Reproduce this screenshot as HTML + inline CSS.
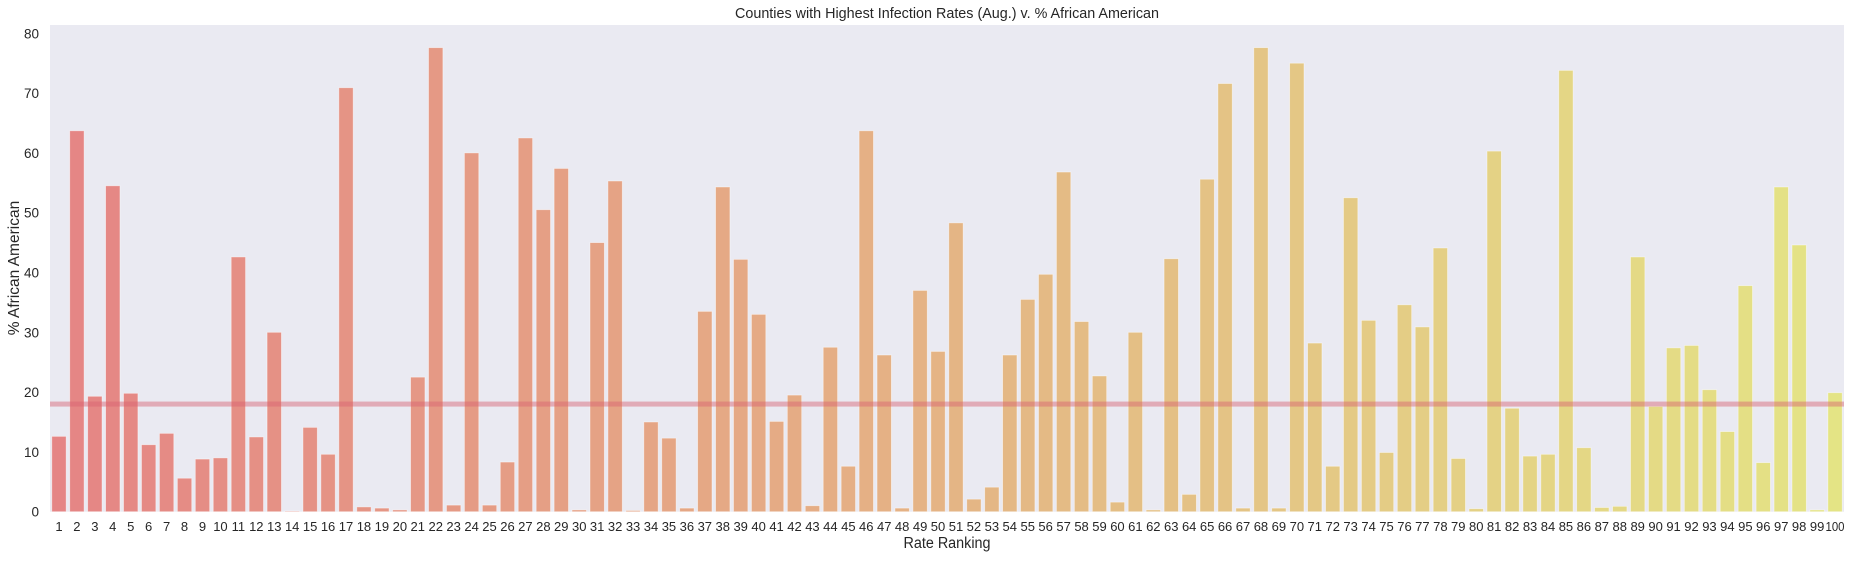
<!DOCTYPE html>
<html><head><meta charset="utf-8"><style>
body{margin:0;background:#fff;}
svg text{font-family:"Liberation Sans",Arial,sans-serif;fill:#262626;}
</style></head><body>
<svg id="chart" width="1853" height="559" xmlns="http://www.w3.org/2000/svg">
<text x="947" y="18" font-size="14.5" text-anchor="middle" textLength="424" lengthAdjust="spacingAndGlyphs">Counties with Highest Infection Rates (Aug.) v. % African American</text>
<rect x="50" y="25" width="1794" height="486.7" fill="#eaeaf2"/>
<g id="bars"></g>
<g id="yticks"></g>
<g id="xticks"></g>
<text transform="translate(19,268) rotate(-90)" font-size="15.5" text-anchor="middle">% African American</text>
<text x="947" y="548" font-size="15.5" text-anchor="middle" textLength="87" lengthAdjust="spacingAndGlyphs">Rate Ranking</text>
</svg>
<script>
const categories = Array.from({length:100},(_,i)=>String(i+1));
const values = [12.6,63.7,19.3,54.5,19.8,11.2,13.1,5.6,8.8,9.0,42.6,12.5,30,0.1,14.1,9.6,70.9,0.8,0.6,0.3,22.5,77.6,1.1,60,1.1,8.3,62.5,50.5,57.4,0.3,45,55.3,0.2,15,12.3,0.6,33.5,54.3,42.2,33,15.1,19.5,1,27.5,7.6,63.7,26.2,0.6,37,26.8,48.3,2.1,4.1,26.2,35.5,39.7,56.8,31.8,22.7,1.6,30,0.3,42.3,2.9,55.6,71.6,0.6,77.6,0.6,75,28.2,7.6,52.5,32,9.9,34.6,30.9,44.1,8.9,0.5,60.3,17.3,9.3,9.6,73.8,10.7,0.7,0.9,42.6,17.6,27.4,27.8,20.4,13.4,37.8,8.2,54.3,44.6,0.3,19.9];
const meanValue = [18.0];
const yTicks = [0,10,20,30,40,50,60,70,80];
const NS='http://www.w3.org/2000/svg';
const X0=50,X1=1844,Y0=511.7,PX=5.98;
const slot=(X1-X0)/categories.length;
const xc=i=>X0+slot*(i+0.5);
const y=v=>Y0-v*PX;
const bars=document.getElementById('bars');
values.forEach((v,i)=>{
  const t=i/(values.length-1);
  const g=Math.round(133+t*95), r=Math.round(229-t*1);
  const rc=document.createElementNS(NS,'rect');
  
  
  rc.setAttribute('x',xc(i)-slot*0.4);rc.setAttribute('width',slot*0.8);
  rc.setAttribute('y',y(v));rc.setAttribute('height',v*PX);
  rc.setAttribute('fill','rgb('+r+','+g+',133)');
  rc.setAttribute('stroke','#fff');rc.setAttribute('stroke-opacity','0.5');rc.setAttribute('stroke-width','0.8');
  bars.appendChild(rc);
});
const ml=document.createElementNS(NS,'rect');


ml.setAttribute('x',X0);ml.setAttribute('width',X1-X0);
ml.setAttribute('y',y(meanValue[0])-2.5);ml.setAttribute('height',5);
ml.setAttribute('fill','rgba(214,95,110,0.45)');
bars.appendChild(ml);
const yt=document.getElementById('yticks');
yTicks.forEach(v=>{
  const t=document.createElementNS(NS,'text');
  
  
  t.setAttribute('x',39);t.setAttribute('y',y(v)+5);
  t.setAttribute('font-size','13.5');t.setAttribute('text-anchor','end');
  t.textContent=v;yt.appendChild(t);
});
const xt=document.getElementById('xticks');
categories.forEach((c,i)=>{
  const t=document.createElementNS(NS,'text');
  
  
  t.setAttribute('x',xc(i));t.setAttribute('y',531);
  t.setAttribute('font-size','13');t.setAttribute('text-anchor','middle');
  if(c.length>2){t.setAttribute('textLength','19');t.setAttribute('lengthAdjust','spacingAndGlyphs');}
  t.textContent=c;xt.appendChild(t);
});
</script>
</body></html>
